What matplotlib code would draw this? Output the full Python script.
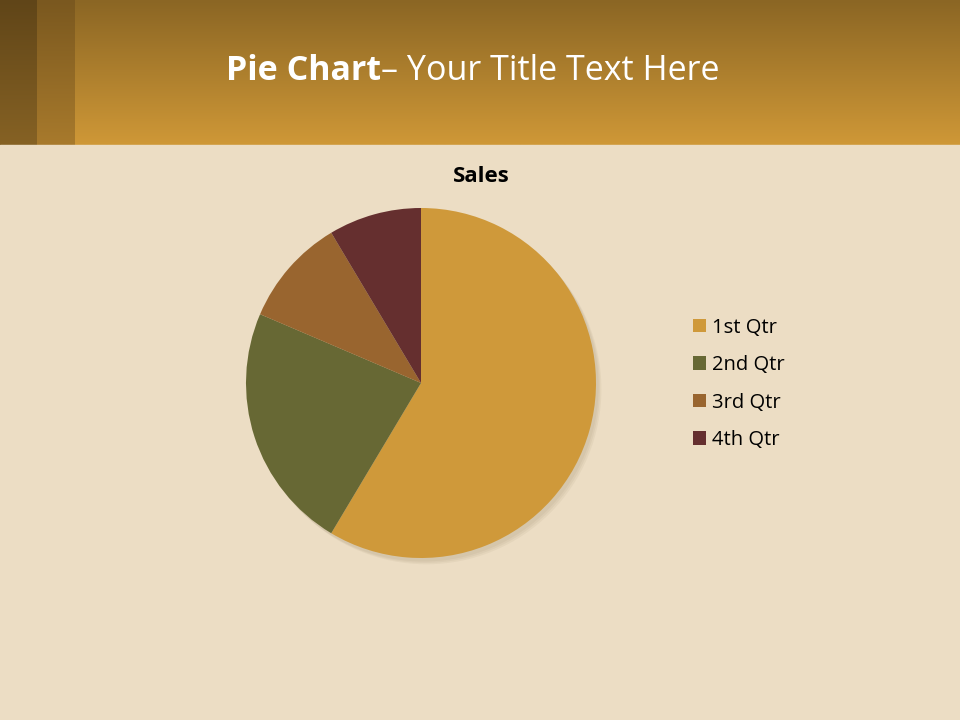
import matplotlib
matplotlib.use("Agg")
import matplotlib.pyplot as plt
import numpy as np
from matplotlib.patches import Rectangle, Circle

categories = ["1st Qtr", "2nd Qtr", "3rd Qtr", "4th Qtr"]
sales = [8.2, 3.2, 1.4, 1.2]
colors = ["#CF993A", "#676834", "#99652F", "#652F2F"]
chart_title = "Sales"

W, H = 960, 720
BODY = "#ECDDC4"
fig = plt.figure(figsize=(9.6, 7.2), dpi=100)
fig.patch.set_facecolor(BODY)

# header band with vertical gradient
bg = fig.add_axes([0, 0, 1, 1], zorder=-10)
bg.axis("off")
g = np.linspace(0, 1, 145).reshape(-1, 1)

def band(t, b):
    t = np.array(t) / 255
    b = np.array(b) / 255
    return np.repeat(t + (b - t) * g[..., None], 2, axis=1)

bg.imshow(band([0x8B, 0x66, 0x24], [0xCF, 0x98, 0x37]), extent=[0, W, 145, 0],
          aspect="auto", interpolation="bilinear")
bg.imshow(band([0x60, 0x45, 0x18], [0x86, 0x62, 0x24]), extent=[0, 37, 145, 0],
          aspect="auto", interpolation="bilinear")
bg.imshow(band([0x7A, 0x58, 0x1F], [0xA8, 0x7A, 0x2C]), extent=[37, 75, 145, 0],
          aspect="auto", interpolation="bilinear")
bg.add_patch(Rectangle((0, 145), W, H - 145, color=BODY, zorder=0))
bg.set_xlim(0, W)
bg.set_ylim(H, 0)

t1 = fig.text(226 / W, 1 - 71 / H, "Pie Chart", color="white", fontsize=24.5,
              fontweight="bold", family="Open Sans", va="center", ha="left")
bg.annotate("– Your Title Text Here", xy=(1, 0.5), xycoords=t1,
            va="center", ha="left", color="white", fontsize=24.5,
            family="Open Sans", annotation_clip=False)

# pie
cx, cy, r = 421, 383, 175
ax = fig.add_axes([(cx - r) / W, (H - cy - r) / H, 2 * r / W, 2 * r / H])
ax.axis("off")
for i in range(3):
    c = Circle((0.015 + 0.008 * i, -0.02 - 0.008 * i), 1.0, color="#5a4520",
               alpha=0.05, zorder=0, lw=0)
    c.set_clip_on(False)
    ax.add_patch(c)
wedges, _ = ax.pie(sales, colors=colors, startangle=90, counterclock=False,
                   radius=1.0, wedgeprops=dict(linewidth=0))
ax.set_xlim(-1, 1)
ax.set_ylim(-1, 1)

fig.text(481 / W, 1 - 177 / H, chart_title, fontsize=16, fontweight="bold",
         family="Open Sans", ha="center", va="center", color="black")

leg = fig.legend(wedges, categories, loc="center left",
                 bbox_to_anchor=(675 / W, 1 - 384 / H), frameon=False,
                 prop=dict(family="Open Sans", size=14.5), handlelength=0.65,
                 handleheight=0.65, handletextpad=0.3, labelspacing=0.87)

fig.savefig("out.png", dpi=100, facecolor=fig.get_facecolor())
